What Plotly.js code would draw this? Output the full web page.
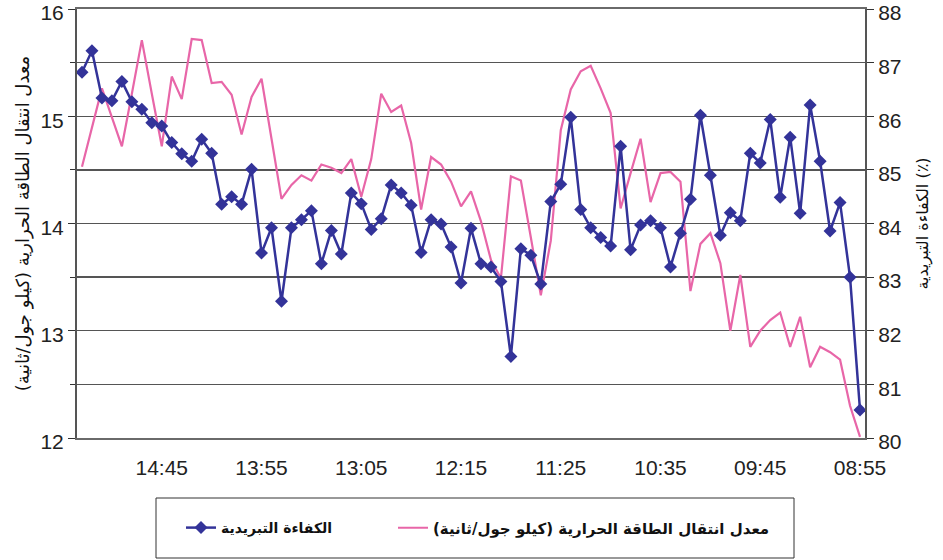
<!DOCTYPE html>
<html>
<head>
<meta charset="utf-8">
<script src="https://cdn.plot.ly/plotly-3.0.1.min.js"></script>
<style>
  html, body { margin: 0; padding: 0; background: #ffffff; }
  #chart { width: 943px; height: 560px; }
</style>
</head>
<body>
<div id="chart"></div>
<script>
// Time of each reading, as drawn from left to right
const times = [
  "15:25","15:20","15:15","15:10","15:05","15:00","14:55","14:50","14:45","14:40",
  "14:35","14:30","14:25","14:20","14:15","14:10","14:05","14:00","13:55","13:50",
  "13:45","13:40","13:35","13:30","13:25","13:20","13:15","13:10","13:05","13:00",
  "12:55","12:50","12:45","12:40","12:35","12:30","12:25","12:20","12:15","12:10",
  "12:05","12:00","11:55","11:50","11:45","11:40","11:35","11:30","11:25","11:20",
  "11:15","11:10","11:05","11:00","10:55","10:50","10:45","10:40","10:35","10:30",
  "10:25","10:20","10:15","10:10","10:05","10:00","09:55","09:50","09:45","09:40",
  "09:35","09:30","09:25","09:20","09:15","09:10","09:05","09:00","08:55"
];

// Cooling efficiency (%) - right axis
const efficiency = [
  86.82, 87.22, 86.34, 86.29, 86.65, 86.27, 86.13, 85.88, 85.82, 85.51,
  85.30, 85.16, 85.57, 85.31, 84.36, 84.50, 84.36, 85.01, 83.45, 83.92,
  82.55, 83.92, 84.07, 84.24, 83.25, 83.87, 83.43, 84.57, 84.37, 83.89,
  84.09, 84.72, 84.57, 84.34, 83.46, 84.07, 83.99, 83.56, 82.89, 83.91,
  83.25, 83.19, 82.92, 81.52, 83.53, 83.41, 82.87, 84.41, 84.73, 85.98,
  84.26, 83.92, 83.74, 83.58, 85.44, 83.51, 83.97, 84.05, 83.92, 83.19,
  83.82, 84.45, 86.02, 84.90, 83.78, 84.20, 84.05, 85.31, 85.13, 85.94,
  84.49, 85.61, 84.19, 86.21, 85.16, 83.86, 84.39, 83.00, 80.52
];

// Heat transfer rate (kJ/s) - left axis
const heatRate = [
  14.53, 14.90, 15.26, 14.99, 14.72, 15.21, 15.71, 15.21, 14.72, 15.37,
  15.16, 15.72, 15.71, 15.31, 15.32, 15.20, 14.83, 15.18, 15.35, 14.79,
  14.23, 14.36, 14.45, 14.40, 14.55, 14.52, 14.47, 14.60, 14.25, 14.60,
  15.21, 15.04, 15.10, 14.75, 14.13, 14.62, 14.55, 14.39, 14.16, 14.30,
  14.02, 13.66, 13.49, 14.44, 14.40, 13.87, 13.33, 13.84, 14.87, 15.25,
  15.42, 15.47, 15.26, 15.03, 14.14, 14.47, 14.79, 14.20, 14.47, 14.48,
  14.39, 13.37, 13.81, 13.91, 13.63, 13.00, 13.52, 12.85, 13.00, 13.10,
  13.17, 12.85, 13.13, 12.66, 12.85, 12.80, 12.73, 12.30, 12.01
];

const xTickLabels = ["14:45","13:55","13:05","12:15","11:25","10:35","09:45","08:55"];

const nameEfficiency = "الكفاءة التبريدية";
const nameHeat = "معدل انتقال الطاقة الحرارية (كيلو جول/ثانية)";
const titleLeft = "معدل انتقال الطاقة الحرارية (كيلو جول/ثانية)";
const titleRight = "الكفاءة التبريدية (٪)";

// tick marks sit on the category boundary right of each labelled category
const boundaryTicks = xTickLabels.map(t => times.indexOf(t) + 0.5);

const arabicFont = "DejaVu Sans, Noto Sans, sans-serif";
const numFont = "Liberation Sans, Arial, sans-serif";

const traces = [
  {
    x: times, y: efficiency, name: nameEfficiency,
    type: "scatter", mode: "lines+markers",
    yaxis: "y2", xaxis: "x", legend: "legend",
    line: { color: "#333399", width: 2.5 },
    marker: { symbol: "diamond", size: 10, color: "#333399" }
  },
  {
    x: times, y: heatRate, name: nameHeat,
    type: "scatter", mode: "lines",
    yaxis: "y", xaxis: "x", legend: "legend2",
    line: { color: "#E866A8", width: 2.2 }
  }
];

const plotL = 77, plotR = 865, plotT = 9, plotB = 438;
const pw = plotR - plotL, ph = plotB - plotT;

const layout = {
  width: 943, height: 560,
  margin: { l: plotL, r: 943 - plotR, t: plotT, b: 560 - plotB, pad: 0 },
  paper_bgcolor: "#ffffff", plot_bgcolor: "#ffffff",
  showlegend: true,
  font: { family: numFont, color: "#222" },
  xaxis: {
    type: "category",
    categoryorder: "array", categoryarray: times,
    range: [-0.5, times.length - 0.5],
    tickmode: "array", tickvals: xTickLabels, ticktext: xTickLabels,
    ticks: "", showgrid: false, zeroline: false,
    showline: true, mirror: true, linecolor: "#6a6a6a", linewidth: 2,
    tickfont: { family: numFont, size: 21, color: "#222" },
    ticklabelstandoff: 10, ticklabeloverflow: "allow"
  },
  xaxis2: {
    overlaying: "x", anchor: "y", side: "bottom",
    type: "linear", range: [-0.5, times.length - 0.5],
    tickmode: "array", tickvals: boundaryTicks,
    ticks: "outside", ticklen: 8, tickwidth: 1, tickcolor: "#333",
    showticklabels: false, showgrid: false, zeroline: false, showline: false
  },
  yaxis: {
    range: [12, 16], tickmode: "linear", dtick: 1, tick0: 12,
    ticks: "outside", ticklen: 7, tickwidth: 1, tickcolor: "#333",
    minor: { dtick: 0.5, ticks: "outside", ticklen: 5, tickcolor: "#333", showgrid: false },
    showgrid: false, zeroline: false,
    showline: true, linecolor: "#555", linewidth: 2,
    tickfont: { family: numFont, size: 21, color: "#222" },
    ticklabeloverflow: "allow", ticklabelshift: 4,
    title: { text: titleLeft, font: { family: arabicFont, size: 18, color: "#111" }, standoff: 6 }
  },
  yaxis2: {
    overlaying: "y", side: "right", anchor: "x",
    range: [80, 88], tickmode: "linear", dtick: 1, tick0: 80,
    ticks: "outside", ticklen: 7, tickwidth: 1, tickcolor: "#333",
    showgrid: true, gridcolor: "#555", gridwidth: 1.3,
    zeroline: false,
    showline: true, linecolor: "#555", linewidth: 2,
    tickfont: { family: numFont, size: 21, color: "#222" },
    ticklabeloverflow: "allow", ticklabelshift: 4,
    title: { text: titleRight, font: { family: arabicFont, size: 16, color: "#111" }, standoff: 16 }
  },
  legend: {
    orientation: "h",
    x: (181 - plotL) / pw, xanchor: "left",
    y: -(528 - plotB) / ph, yanchor: "middle",
    bgcolor: "rgba(0,0,0,0)", borderwidth: 0,
    font: { family: arabicFont, size: 14, color: "#111", weight: "bold" }
  },
  legend2: {
    orientation: "h",
    x: (393 - plotL) / pw, xanchor: "left",
    y: -(528 - plotB) / ph, yanchor: "middle",
    bgcolor: "rgba(0,0,0,0)", borderwidth: 0,
    font: { family: arabicFont, size: 15, color: "#111", weight: "bold" }
  },
  shapes: [
    {
      type: "rect", xref: "paper", yref: "paper",
      x0: (156 - plotL) / pw, x1: (794 - plotL) / pw,
      y0: -(498 - plotB) / ph, y1: -(558 - plotB) / ph,
      line: { color: "#333", width: 1 }, fillcolor: "rgba(0,0,0,0)", layer: "below"
    }
  ]
};

Plotly.newPlot("chart", traces, layout, { displayModeBar: false, staticPlot: true });
</script>
</body>
</html>
